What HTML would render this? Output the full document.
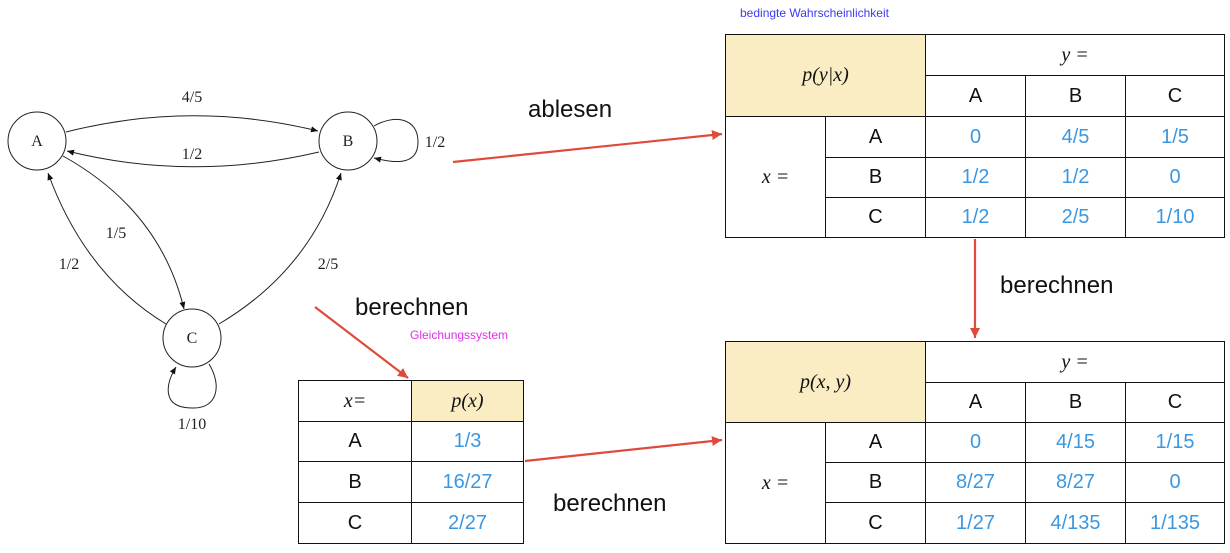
<!DOCTYPE html>
<html><head><meta charset="utf-8"><style>
body{margin:0;background:#fff;width:1230px;height:553px;overflow:hidden;position:relative;font-family:"Liberation Sans",sans-serif}
svg{position:absolute;left:0;top:0}
.lbl{font-family:"Liberation Serif",serif;font-size:16px;fill:#222}
.t{position:absolute;font-size:24px;color:#111}
.tb{position:absolute;border-collapse:collapse;table-layout:fixed}
.tb td{border:1.3px solid #111;text-align:center;font-size:20px;padding:0;color:#111}
.v{color:#3b97e0!important}
.y{background:#faedc4}
.m{font-family:"Liberation Serif",serif;font-style:italic}
</style></head><body>
<svg width="1230" height="553">
<defs>
<marker id="ah" markerWidth="8" markerHeight="8" refX="7" refY="4" orient="auto" markerUnits="userSpaceOnUse"><path d="M0,1 L7,4 L0,7 z" fill="#111"/></marker>
<marker id="rh" markerWidth="12" markerHeight="12" refX="10" refY="6" orient="auto" markerUnits="userSpaceOnUse"><path d="M0,1 L10,6 L0,11 z" fill="#e04a3a"/></marker>
</defs>
<g fill="none" stroke="#222" stroke-width="1">
<circle cx="37" cy="141" r="29"/>
<circle cx="348" cy="141" r="29"/>
<circle cx="192" cy="338" r="29"/>
<path d="M66,132 Q192,100 318,131" marker-end="url(#ah)"/>
<path d="M319,152 Q192,182 67,151" marker-end="url(#ah)"/>
<path d="M63,156 Q160,210 184,309" marker-end="url(#ah)"/>
<path d="M166,324 Q85,275 48,173" marker-end="url(#ah)"/>
<path d="M219,324 Q310,270 341,173" marker-end="url(#ah)"/>
<path d="M374,126 C395,114 418,118 418,142 C418,168 390,162 374,158" marker-end="url(#ah)"/>
<path d="M209,364 C222,385 218,409 192,408 C162,408 165,385 176,367" marker-end="url(#ah)"/>
</g>
<text class="lbl" x="37" y="146" text-anchor="middle">A</text>
<text class="lbl" x="348" y="146" text-anchor="middle">B</text>
<text class="lbl" x="192" y="343" text-anchor="middle">C</text>
<text class="lbl" x="192" y="102" text-anchor="middle">4/5</text>
<text class="lbl" x="192" y="159" text-anchor="middle">1/2</text>
<text class="lbl" x="435" y="147" text-anchor="middle">1/2</text>
<text class="lbl" x="116" y="238" text-anchor="middle">1/5</text>
<text class="lbl" x="69" y="269" text-anchor="middle">1/2</text>
<text class="lbl" x="328" y="269" text-anchor="middle">2/5</text>
<text class="lbl" x="192" y="429" text-anchor="middle">1/10</text>
<g stroke="#e04a3a" stroke-width="2.2" fill="none">
<line x1="453" y1="162" x2="722" y2="134" marker-end="url(#rh)"/>
<line x1="975" y1="239" x2="975" y2="338" marker-end="url(#rh)"/>
<line x1="315" y1="307" x2="408" y2="378" marker-end="url(#rh)"/>
<line x1="525" y1="461" x2="722" y2="440" marker-end="url(#rh)"/>
</g>
</svg>
<div class="t" style="left:528px;top:96px">ablesen</div>
<div class="t" style="left:1000px;top:272px">berechnen</div>
<div class="t" style="left:355px;top:294px">berechnen</div>
<div class="t" style="left:553px;top:490px">berechnen</div>
<div style="position:absolute;left:740px;top:6px;font-size:12px;color:#3a3af0">bedingte Wahrscheinlichkeit</div>
<div style="position:absolute;left:410px;top:328px;font-size:12px;color:#e030e8">Gleichungssystem</div>

<table class="tb" style="left:725px;top:34px;width:499px;height:204px">
<colgroup><col style="width:100px"><col style="width:100px"><col style="width:100px"><col style="width:100px"><col style="width:99px"></colgroup>
<tr style="height:41px"><td colspan="2" rowspan="2" class="y m">p(y|x)</td><td colspan="3" class="m">y =</td></tr>
<tr style="height:41px"><td>A</td><td>B</td><td>C</td></tr>
<tr style="height:41px"><td rowspan="3" class="m">x =</td><td>A</td><td class="v">0</td><td class="v">4/5</td><td class="v">1/5</td></tr>
<tr style="height:40px"><td>B</td><td class="v">1/2</td><td class="v">1/2</td><td class="v">0</td></tr>
<tr style="height:40px"><td>C</td><td class="v">1/2</td><td class="v">2/5</td><td class="v">1/10</td></tr>
</table>

<table class="tb" style="left:725px;top:341px;width:499px;height:203px">
<colgroup><col style="width:100px"><col style="width:100px"><col style="width:100px"><col style="width:100px"><col style="width:99px"></colgroup>
<tr style="height:41px"><td colspan="2" rowspan="2" class="y m">p(x, y)</td><td colspan="3" class="m">y =</td></tr>
<tr style="height:40px"><td>A</td><td>B</td><td>C</td></tr>
<tr style="height:40px"><td rowspan="3" class="m">x =</td><td>A</td><td class="v">0</td><td class="v">4/15</td><td class="v">1/15</td></tr>
<tr style="height:40px"><td>B</td><td class="v">8/27</td><td class="v">8/27</td><td class="v">0</td></tr>
<tr style="height:41px"><td>C</td><td class="v">1/27</td><td class="v">4/135</td><td class="v">1/135</td></tr>
</table>

<table class="tb" style="left:298px;top:380px;width:225px;height:164px">
<colgroup><col style="width:113px"><col style="width:112px"></colgroup>
<tr style="height:41px"><td class="m">x=</td><td class="y m">p(x)</td></tr>
<tr style="height:40px"><td>A</td><td class="v">1/3</td></tr>
<tr style="height:41px"><td>B</td><td class="v">16/27</td></tr>
<tr style="height:41px"><td>C</td><td class="v">2/27</td></tr>
</table>
</body></html>
